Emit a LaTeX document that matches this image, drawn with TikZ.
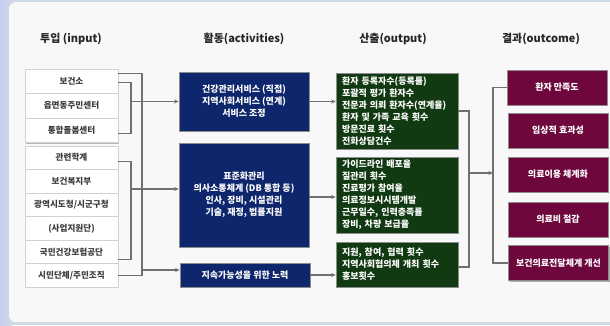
\documentclass[tikz,border=0pt]{standalone}
\usepackage{fontspec}
\setmainfont{Noto Sans CJK KR}
\usetikzlibrary{shadows,arrows.meta}
\definecolor{navy}{RGB}{14,38,108}
\definecolor{dgreen}{RGB}{18,58,18}
\definecolor{maroon}{RGB}{110,8,60}
\definecolor{connc}{RGB}{112,112,112}
\definecolor{panelc}{RGB}{248,248,248}
\definecolor{edgec}{RGB}{205,218,230}
\definecolor{intext}{RGB}{60,60,60}
\tikzset{
  hdr/.style={font=\bfseries\fontsize{11}{13}\selectfont, text=black!85},
  inbox/.style={fill=white, draw=black!18, line width=0.5pt, minimum width=93pt,
    inner sep=0pt, text=intext, font=\bfseries\fontsize{8.6}{10}\selectfont,
    drop shadow={shadow xshift=1pt, shadow yshift=-1.2pt, opacity=0.25, fill=black}},
  actbox/.style={fill=navy, draw=black!45, line width=0.6pt, minimum width=130pt,
    text=white, align=center, inner sep=0pt, font=\bfseries\fontsize{9}{12}\selectfont,
    drop shadow={shadow xshift=1pt, shadow yshift=-1pt, opacity=0.3, fill=black}},
  outbox/.style={fill=dgreen, draw=black!45, line width=0.6pt, text width=110pt,
    inner xsep=6pt, inner ysep=0pt, text=white, align=left,
    font=\bfseries\fontsize{9}{12}\selectfont,
    drop shadow={shadow xshift=1pt, shadow yshift=-1pt, opacity=0.3, fill=black}},
  resbox/.style={fill=maroon, draw=black!45, line width=0.6pt, minimum width=100pt,
    minimum height=35pt, text=white, inner sep=0pt, font=\bfseries\fontsize{9}{11}\selectfont,
    drop shadow={shadow xshift=1pt, shadow yshift=-1pt, opacity=0.3, fill=black}},
  conn/.style={draw=connc, line width=1.1pt},
  arr/.style={conn, -{Stealth[length=4.5pt,width=4pt]}}
}
\begin{document}
\begin{tikzpicture}[x=1pt,y=-1pt]
\useasboundingbox (0,0) rectangle (610,325);
\fill[edgec] (0,0) rectangle (610,325);
\shade[left color=edgec!80!blue!60, right color=edgec] (0,0) rectangle (12,325);
\fill[panelc, rounded corners=7pt] (9,2) rectangle (625,322);

% headers
\node[hdr] (h1) at (71,39) {투입 (input)};
\node[hdr] (h2) at (244,39) {활동(activities)};
\node[hdr] (h3) at (393,39) {산출(output)};
\node[hdr] (h4) at (541,39) {결과(outcome)};

% inputs
\node[inbox, minimum height=24.5pt] (i1) at (71.5,81.25) {보건소};
\node[inbox, minimum height=24.5pt] (i2) at (71.5,105.75) {읍면동주민센터};
\node[inbox, minimum height=24.5pt] (i3) at (71.5,130.25) {통합돌봄센터};
\node[inbox, minimum height=23.5pt] (i4) at (71.5,157.75) {관련학계};
\node[inbox, minimum height=23.5pt] (i5) at (71.5,181.25) {보건복지부};
\node[inbox, minimum height=23.5pt] (i6) at (71.5,204.75) {광역시도청/시군구청};
\node[inbox, minimum height=23.5pt] (i7) at (71.5,228.25) {(사업지원단)};
\node[inbox, minimum height=23.5pt] (i8) at (71.5,251.75) {국민건강보험공단};
\node[inbox, minimum height=23.5pt] (i9) at (71.5,275.25) {시민단체/주민조직};

% activities
\node[actbox, minimum height=59pt] (a1) at (244,101.5) {건강관리서비스 (직접)\\지역사회서비스 (연계)\\서비스 조정};
\node[actbox, minimum height=104pt] (a2) at (244,195) {표준화관리\\의사소통체계 (DB 통합 등)\\인사, 장비, 시설관리\\기술, 재정, 법률지원};
\node[actbox, minimum height=24pt] (a3) at (245,275) {지속가능성을 위한 노력};

% outputs
\node[outbox, minimum height=76pt] (o1) at (397,111) {환자 등록자수(등록률)\\포괄적 평가 환자수\\전문과 의뢰 환자수(연계율)\\환자 및 가족 교육 횟수\\방문진료 횟수\\전화상담건수};
\node[outbox, minimum height=76pt] (o2) at (397,195) {가이드라인 배포율\\질관리 횟수\\진료평가 참여율\\의료정보시시템개발\\근무일수, 인력충족률\\장비, 차량 보급율};
\node[outbox, minimum height=45pt] (o3) at (397,264.5) {지원, 참여, 협력 횟수\\지역사회협의체 개최 횟수\\홍보횟수};

% outcomes
\node[resbox] (c1) at (557,87.5) {환자 만족도};
\node[resbox] (c2) at (558,130.5) {임상적 효과성};
\node[resbox] (c3) at (558,174.5) {의료이용 체계화};
\node[resbox] (c4) at (558,219.5) {의료비 절감};
\node[resbox] (c5) at (558.5,263) {보건의료전달체계 개선};

% junction coordinates
\coordinate (j1) at (131,0);
\coordinate (j2) at (142,0);
\coordinate (ko) at (469,173);
\coordinate (kc) at (493,173);

% input connectors
\draw[conn] ([yshift=8pt]i1.east) -| (j2 |- i9.east) -- (i9.east);
\draw[conn] ([yshift=-1pt]i1.east) -| ([yshift=-3pt]i3.east -| j1) -- ([yshift=-3pt]i3.east);
\draw[conn] ([yshift=-4pt]i4.east) -| ([yshift=-8pt]i8.east -| j1) -- ([yshift=-8pt]i8.east);
\draw[arr] (a1.west -| j1) -- (a1.west);
\draw[arr] ([yshift=6pt]a2.west -| j1) -- ([yshift=6pt]a2.west);
\draw[arr] ([yshift=5pt]a3.west -| j2) -- ([yshift=5pt]a3.west);

% activity to output
\draw[arr] (a1.east) -- (a1.east -| o1.west);
\draw[arr] ([yshift=-2pt]a2.east) -- ([yshift=-2pt]a2.east -| o2.west);
\draw[arr] (a3.east) -- (a3.east -| o3.west);

% output to outcome
\draw[conn] (o1.east) -| ([yshift=-2.5pt]o3.east -| ko) -- ([yshift=-2.5pt]o3.east);
\draw[arr] (ko) -- (kc);
\draw[conn] (c1.west) -| (c5.west -| kc) -- (c5.west);
\end{tikzpicture}
\end{document}
